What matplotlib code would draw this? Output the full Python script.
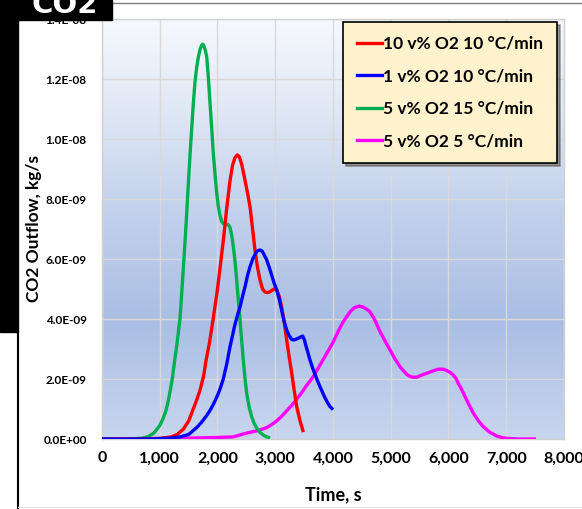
import numpy as np
import matplotlib
matplotlib.use("Agg")
import matplotlib.pyplot as plt
from matplotlib.colors import LinearSegmentedColormap
from matplotlib.patches import Rectangle
from matplotlib.lines import Line2D
from matplotlib.ticker import FuncFormatter

plt.rcParams['font.family'] = ['Lato', 'DejaVu Sans']
plt.rcParams['font.weight'] = 'bold'

# CO2 outflow curves (time in s, outflow in 1e-9 kg/s)
t_red = [0, 500, 1000, 1200, 1300, 1410, 1500, 1580, 1640, 1700, 1760, 1800,
         1860, 1925, 2000, 2050, 2100, 2160, 2216, 2260, 2300, 2343, 2380,
         2420, 2476, 2520, 2563, 2605, 2649, 2690, 2736, 2780, 2822, 2860,
         2900, 2940, 2980, 3025, 3070, 3111, 3155, 3198, 3240, 3285, 3330,
         3371, 3430, 3487]
y_red = [0, 0, 0.02, 0.07, 0.15, 0.33, 0.6, 1.0, 1.3, 1.65, 2.1, 2.6,
         3.2, 4.0, 5.0, 5.8, 6.6, 7.7, 8.6, 9.12, 9.37, 9.47, 9.4,
         9.15, 8.63, 8.2, 7.74, 7.05, 6.3, 5.75, 5.3, 5.0, 4.9, 4.88,
         4.9, 4.95, 5.0, 4.97, 4.75, 4.4, 3.9, 3.3, 2.75, 2.2, 1.6,
         1.08, 0.6, 0.23]

t_blue = [0, 800, 1200, 1350, 1500, 1639, 1720, 1800, 1870, 1927, 2000, 2050,
          2100, 2160, 2216, 2260, 2300, 2350, 2390, 2440, 2480, 2520, 2563,
          2610, 2650, 2690, 2736, 2770, 2800, 2852, 2900, 2940, 2980, 3025,
          3070, 3110, 3150, 3198, 3240, 3280, 3313, 3350, 3400, 3440, 3474,
          3505, 3540, 3570, 3602, 3650, 3690, 3730, 3775, 3820, 3860, 3900,
          3948, 4000]
y_blue = [0, 0, 0.03, 0.07, 0.15, 0.38, 0.55, 0.75, 0.95, 1.15, 1.45, 1.7,
          2.0, 2.5, 3.07, 3.45, 3.8, 4.15, 4.4, 4.8, 5.1, 5.45, 5.74,
          6.0, 6.15, 6.27, 6.3, 6.27, 6.17, 5.97, 5.7, 5.45, 5.2, 4.97,
          4.65, 4.3, 3.95, 3.63, 3.45, 3.33, 3.3, 3.32, 3.36, 3.4, 3.43,
          3.3, 3.05, 2.85, 2.63, 2.35, 2.15, 1.95, 1.74, 1.55, 1.38, 1.23,
          1.08, 0.98]

t_green = [0, 500, 700, 800, 900, 1000, 1050, 1100, 1140, 1180, 1220, 1250,
           1300, 1350, 1380, 1410, 1440, 1466, 1495, 1525, 1555, 1582, 1610,
           1640, 1669, 1700, 1725, 1745, 1765, 1790, 1813, 1840, 1870, 1900,
           1928, 1958, 1986, 2015, 2044, 2073, 2101, 2130, 2160, 2190, 2217,
           2245, 2275, 2305, 2332, 2360, 2390, 2420, 2447, 2475, 2505, 2550,
           2592, 2635, 2678, 2735, 2794, 2850, 2910]
y_green = [0, 0, 0.03, 0.08, 0.2, 0.45, 0.65, 0.9, 1.2, 1.6, 2.05, 2.5,
           3.2, 4.0, 4.85, 5.74, 6.65, 7.5, 8.5, 9.5, 10.4, 11.2, 11.9,
           12.4, 12.74, 13.0, 13.12, 13.16, 13.1, 12.95, 12.74, 12.1, 11.2,
           10.35, 9.5, 8.8, 8.2, 7.75, 7.45, 7.25, 7.18, 7.15, 7.16, 7.14,
           7.05, 6.8, 6.4, 5.9, 5.3, 4.65, 3.97, 3.25, 2.63, 2.05, 1.53,
           1.05, 0.74, 0.52, 0.37, 0.22, 0.13, 0.07, 0.03]

t_mag = [0, 1000, 1500, 2000, 2274, 2510, 2700, 2851, 2970, 3082, 3170, 3250,
         3330, 3400, 3470, 3530, 3600, 3660, 3750, 3830, 3920, 4006, 4080,
         4160, 4237, 4300, 4370, 4450, 4520, 4580, 4640, 4720, 4810, 4900,
         4987, 5070, 5160, 5220, 5280, 5340, 5391, 5450, 5500, 5560, 5622,
         5690, 5750, 5810, 5870, 5920, 5970, 6030, 6083, 6130, 6170, 6215,
         6257, 6340, 6430, 6520, 6603, 6720, 6834, 6920, 7010, 7200, 7515]
y_mag = [0, 0.01, 0.03, 0.05, 0.07, 0.2, 0.28, 0.38, 0.52, 0.7, 0.88, 1.05,
         1.22, 1.4, 1.58, 1.75, 1.93, 2.08, 2.38, 2.65, 2.95, 3.24, 3.55,
         3.85, 4.08, 4.25, 4.38, 4.43, 4.4, 4.33, 4.24, 3.98, 3.6, 3.27,
         2.97, 2.68, 2.41, 2.27, 2.15, 2.08, 2.06, 2.06, 2.1, 2.15, 2.19,
         2.24, 2.28, 2.32, 2.33, 2.32, 2.28, 2.22, 2.13, 2.02, 1.85, 1.7,
         1.53, 1.2, 0.86, 0.6, 0.41, 0.22, 0.1, 0.05, 0.02, 0, 0]

labels = ['10 v% O2 10 °C/min', '1 v% O2 10 °C/min',
          '5 v% O2 15 °C/min', '5 v% O2 5 °C/min']
colors = ['#ff0000', '#0000ff', '#00b050', '#ff00ff']

W, H = 582, 509
fig = plt.figure(figsize=(W / 100, H / 100), dpi=100)
ax = fig.add_axes([102 / W, 70 / H, 462 / W, 420 / H])

# plot area gradient
cmap = LinearSegmentedColormap.from_list(
    'bg', [(0.0, '#c8d5ee'), (0.28, '#aabee4'), (0.55, '#c3d1ec'),
           (0.8, '#e2e9f6'), (1.0, '#f6f8fd')])
grad = np.linspace(0, 1, 256).reshape(-1, 1)
ax.imshow(grad, cmap=cmap, origin='lower', aspect='auto',
          extent=[0, 8000, 0, 1.4e-8], zorder=0)

series = [(t_red, y_red), (t_blue, y_blue), (t_green, y_green), (t_mag, y_mag)]
order = [3, 2, 0, 1]
for i in order:
    t, y = series[i]
    ax.plot(t, np.array(y) * 1e-9, color=colors[i], lw=2.4, zorder=3,
            solid_joinstyle='round', solid_capstyle='butt')

ax.set_xlim(0, 8000)
ax.set_ylim(0, 1.4e-8)
ax.set_xticks(np.arange(0, 8001, 1000))
ax.set_yticks(np.arange(0, 1.41e-8, 2e-9))
ax.grid(True, color='#d9d9d9', lw=1.0)
for gl in ax.get_xgridlines() + ax.get_ygridlines():
    gl.set_zorder(1)
ax.xaxis.set_major_formatter(FuncFormatter(lambda v, p: f'{v:,.0f}'))
ax.yaxis.set_major_formatter(FuncFormatter(lambda v, p: '%.1E' % v))
ax.tick_params(axis='x', length=0, pad=9, labelsize=11.5)
ax.tick_params(axis='y', length=0, pad=11, labelsize=8.5)
for s in ax.spines.values():
    s.set_color('#d0d0d0')
    s.set_linewidth(1)

ax.set_xlabel('Time, s', fontsize=13, fontweight='bold', labelpad=15)
ax.set_ylabel('CO2 Outflow, kg/s', fontsize=12.5, fontweight='bold')
ax.yaxis.set_label_coords(-0.13, 0.5)

handles = [Line2D([], [], color=c, lw=2.4) for c in colors]
leg = ax.legend(handles, labels, loc='upper right',
                bbox_to_anchor=(0.985, 0.993), borderaxespad=0,
                prop={'size': 12.5, 'weight': 'bold'}, frameon=True,
                fancybox=False, shadow=True, handlelength=1.45,
                handletextpad=0.05, labelspacing=0.95, borderpad=0.8)
leg.get_frame().set_facecolor('#fff2cc')
leg.get_frame().set_edgecolor('black')
leg.get_frame().set_linewidth(1.2)
leg.get_frame().set_alpha(1)
leg.set_zorder(5)

# outer decorations: title box, side bar and frame
fig.add_artist(Rectangle((0, 1 - 20 / H), 112 / W, 20 / H,
                         transform=fig.transFigure, color='black', zorder=10))
fig.text(65 / W, 1 - 13 / H, 'CO2', color='white', fontsize=21,
         fontweight='bold', ha='center', va='baseline', zorder=11,
         family=['DejaVu Sans'])
fig.add_artist(Rectangle((0, 1 - 332 / H), 18 / W, 332 / H,
                         transform=fig.transFigure, color='black', zorder=10))
fig.text(-6 / W, 1 - 255 / H, 'Introduction', color='white', fontsize=14,
         fontweight='bold', rotation=90, ha='center', va='center', zorder=11)
fig.add_artist(Line2D([18 / W, 18 / W], [0, 1 - 332 / H],
                      transform=fig.transFigure, color='black', lw=1.5))
fig.add_artist(Line2D([112 / W, 1], [1 - 3 / H, 1 - 3 / H],
                      transform=fig.transFigure, color='#7f7f7f', lw=1))
fig.add_artist(Line2D([18 / W, 1], [2 / H, 2 / H],
                      transform=fig.transFigure, color='#e6e6e6', lw=1))

fig.savefig('out.png', dpi=100)
